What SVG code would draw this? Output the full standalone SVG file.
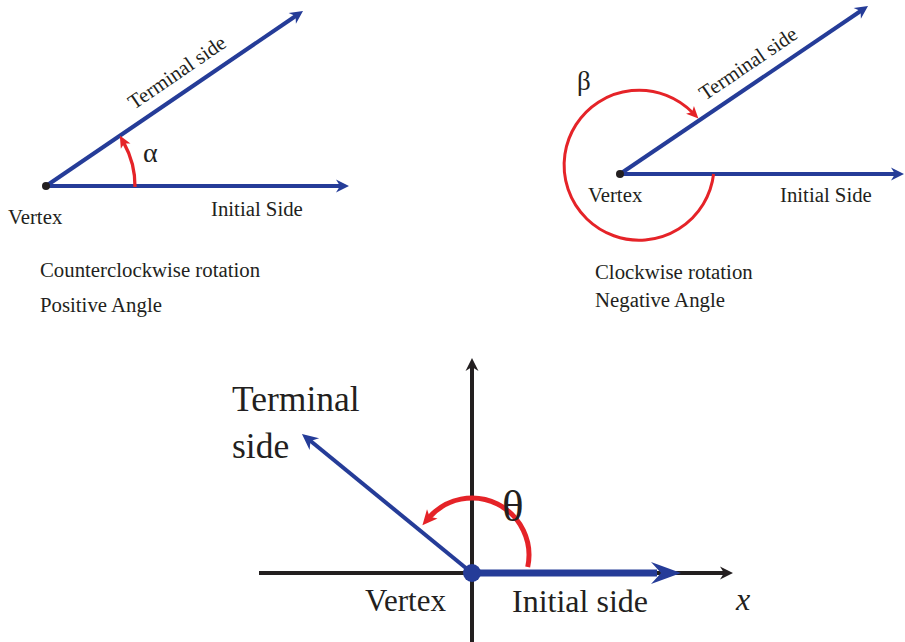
<svg xmlns="http://www.w3.org/2000/svg" width="905" height="642" viewBox="0 0 905 642">
<style>
text{font-family:"Liberation Serif","Times New Roman",serif;fill:#231f20}
.s{font-size:20.8px}
.blue{stroke:#253c98;fill:none}
.red{stroke:#e52328;fill:none}
.blk{stroke:#231f20;fill:none}
</style>
<defs>
<marker id="ab" markerUnits="userSpaceOnUse" viewBox="-6 -8 16 16" markerWidth="16" markerHeight="16" refX="0" refY="0" orient="auto">
<path d="M8,0 L-5,-6.5 L-1,0 L-5,6.5 Z" fill="#253c98"/>
</marker>
<marker id="ar" markerUnits="userSpaceOnUse" viewBox="-6 -8 16 16" markerWidth="16" markerHeight="16" refX="0" refY="0" orient="auto">
<path d="M8,0 L-4,-5.5 L-1,0 L-4,5.5 Z" fill="#e52328"/>
</marker>
<marker id="ak" markerUnits="userSpaceOnUse" viewBox="-6 -8 16 16" markerWidth="16" markerHeight="16" refX="0" refY="0" orient="auto">
<path d="M8,0 L-5,-6.5 L-1,0 L-5,6.5 Z" fill="#231f20"/>
</marker>
<marker id="abig" markerUnits="userSpaceOnUse" viewBox="-12 -14 40 28" markerWidth="40" markerHeight="28" refX="0" refY="0" orient="auto">
<path d="M24,0 L-6,-11 L4,0 L-6,11 Z" fill="#253c98"/>
</marker>
<marker id="abm" markerUnits="userSpaceOnUse" viewBox="-8 -10 24 20" markerWidth="24" markerHeight="20" refX="0" refY="0" orient="auto">
<path d="M10,0 L-6,-7.5 L-1,0 L-6,7.5 Z" fill="#253c98"/>
</marker>
<marker id="arb" markerUnits="userSpaceOnUse" viewBox="-8 -10 24 20" markerWidth="24" markerHeight="20" refX="0" refY="0" orient="auto">
<path d="M10,0 L-5,-7 L-1,0 L-5,7 Z" fill="#e52328"/>
</marker>
</defs>

<g id="connectors">
<!-- diagram 1 -->
<line class="blue" stroke-width="4" x1="46" y1="186" x2="341" y2="186" marker-end="url(#ab)"/>
<line class="blue" stroke-width="4" x1="46" y1="186" x2="296.4" y2="15.5" marker-end="url(#ab)"/>
<path class="red" stroke-width="3.3" d="M135,187 A89,89 0 0 0 123.7,142.6" marker-end="url(#ar)"/>
<!-- diagram 2 -->
<line class="blue" stroke-width="4" x1="620" y1="174" x2="896" y2="174" marker-end="url(#ab)"/>
<line class="blue" stroke-width="4" x1="620" y1="174" x2="861.4" y2="10.5" marker-end="url(#ab)"/>
<path class="red" stroke-width="3" d="M713.6,174 A75,75 0 1 1 692.8,112.8" marker-end="url(#ar)"/>
<!-- diagram 3 -->
<line class="blk" stroke-width="4" x1="259" y1="573" x2="725" y2="573" marker-end="url(#ak)"/>
<line class="blk" stroke-width="4" x1="472" y1="642" x2="472" y2="366" marker-end="url(#ak)"/>
<line class="blue" stroke-width="7" x1="472" y1="573" x2="657" y2="573" marker-end="url(#abig)"/>
<line class="blue" stroke-width="4" x1="472" y1="573" x2="309.7" y2="440.3" marker-end="url(#abm)"/>
<path class="red" stroke-width="5" d="M527.7,567 A57,57 0 0 0 429,517.6" marker-end="url(#arb)"/>
</g>

<g id="vertex1"><circle cx="46" cy="186" r="4" fill="#231f20"/><text class="s" x="8" y="224">Vertex</text></g>
<g id="initial1"><text class="s" x="211" y="216">Initial Side</text></g>
<g id="terminal1"><text class="s" transform="translate(134,110) rotate(-34.3)">Terminal side</text></g>
<g id="alpha"><text x="143" y="162" font-size="28">α</text></g>
<g id="caption1"><text class="s" x="40" y="277">Counterclockwise rotation</text><text class="s" x="40" y="312">Positive Angle</text></g>

<g id="vertex2"><circle cx="620" cy="174" r="4" fill="#231f20"/><text class="s" x="588" y="202">Vertex</text></g>
<g id="initial2"><text class="s" x="780" y="202">Initial Side</text></g>
<g id="terminal2"><text class="s" transform="translate(705,101) rotate(-34.1)">Terminal side</text></g>
<g id="beta"><text x="577" y="90" font-size="27">β</text></g>
<g id="caption2"><text class="s" x="595" y="279">Clockwise rotation</text><text class="s" x="595" y="307">Negative Angle</text></g>

<g id="vertex3"><circle cx="472" cy="573" r="9" fill="#253c98"/><text x="365" y="611" font-size="31">Vertex</text></g>
<g id="initial3"><text x="512" y="612" font-size="32">Initial side</text></g>
<g id="terminal3"><text x="232" y="411" font-size="35.5">Terminal</text><text x="232" y="458" font-size="35.5">side</text></g>
<g id="theta"><text x="502" y="521" font-size="45">θ</text></g>
<g id="xlabel"><text x="736" y="610" font-size="32" font-style="italic">x</text></g>
</svg>
